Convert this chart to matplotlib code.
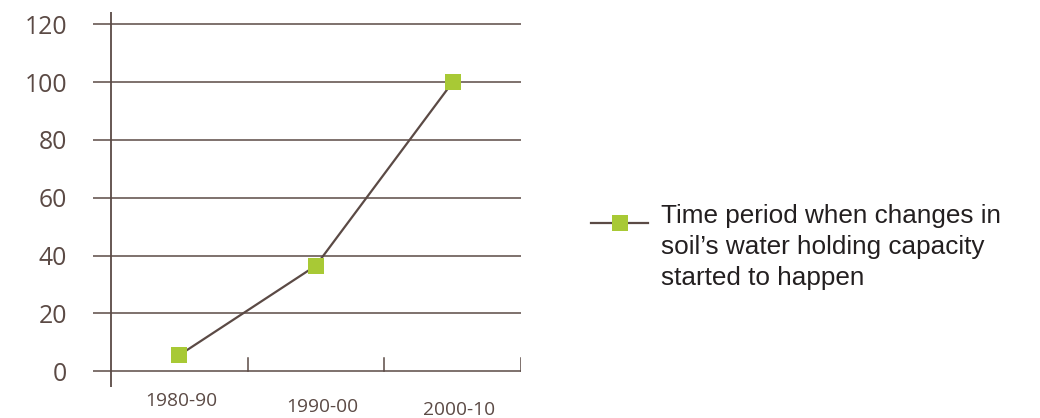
import matplotlib
matplotlib.use('Agg')
import numpy as np
from matplotlib import pyplot as plt
from matplotlib.lines import Line2D

# decades and the share of reports for each
periods = ['1980-90', '1990-00', '2000-10']
values = [5.5, 36.5, 100]
yticks = [0, 20, 40, 60, 80, 100, 120]
legend_text = "Time period when changes in\nsoil\u2019s water holding capacity\nstarted to happen"

brown = '#5b4a45'
green = '#a8c935'
W, H = 1040, 418

fig = plt.figure(figsize=(W / 100, H / 100), dpi=100)
ax = fig.add_axes([93 / W, 31 / H, (521 - 93) / W, (387 - 12) / H])

x = np.arange(len(periods))
ax.set_xlim(-0.63, 2.5)
ax.set_ylim(-5.5, 124.3)

# horizontal rules, the zero one doubles as the x axis
for t in yticks:
    ax.axhline(t, color=brown, lw=1.1, zorder=1)
ax.axvline(-0.5, color=brown, lw=1.3, zorder=1)
# small upward ticks between the periods
for b in [0.5, 1.5, 2.5]:
    ax.plot([b, b], [0, 4.5], color=brown, lw=1.1, zorder=1)

ax.plot(x, values, color=brown, lw=1.6, zorder=2)
ax.plot(x, values, ls='none', marker='s', ms=11.5, color=green,
        markeredgewidth=0, zorder=3)

for s in ax.spines.values():
    s.set_visible(False)
ax.set_xticks([])
ax.set_yticks(yticks)
ax.set_yticklabels([str(t) for t in yticks], fontsize=17.8, color=brown,
                   family='Open Sans')
ax.tick_params(axis='y', length=0, pad=18.5)

# staggered period labels under the axis
dx = [2, 6, 6]
dy = [-30, -36, -39]
for i, lab in enumerate(periods):
    ax.annotate(lab, (x[i], 0), xytext=(dx[i], dy[i]),
                textcoords='offset pixels', ha='center', va='center',
                fontsize=13.8, color=brown, family='Open Sans')

# legend entry drawn by hand so the key sits on the first line
fig.add_artist(Line2D([591 / W, 648 / W], [1 - 223 / H, 1 - 223 / H],
                      color=brown, lw=1.6, transform=fig.transFigure))
fig.add_artist(Line2D([620 / W], [1 - 223 / H], marker='s', ms=11.5,
                      color=green, markeredgewidth=0,
                      transform=fig.transFigure))
fig.text(661 / W, 1 - 204 / H, legend_text, ha='left', va='top',
         fontsize=18.8, color='#231f20', family='Liberation Sans',
         linespacing=1.37)

fig.savefig('out.png', dpi=100)
